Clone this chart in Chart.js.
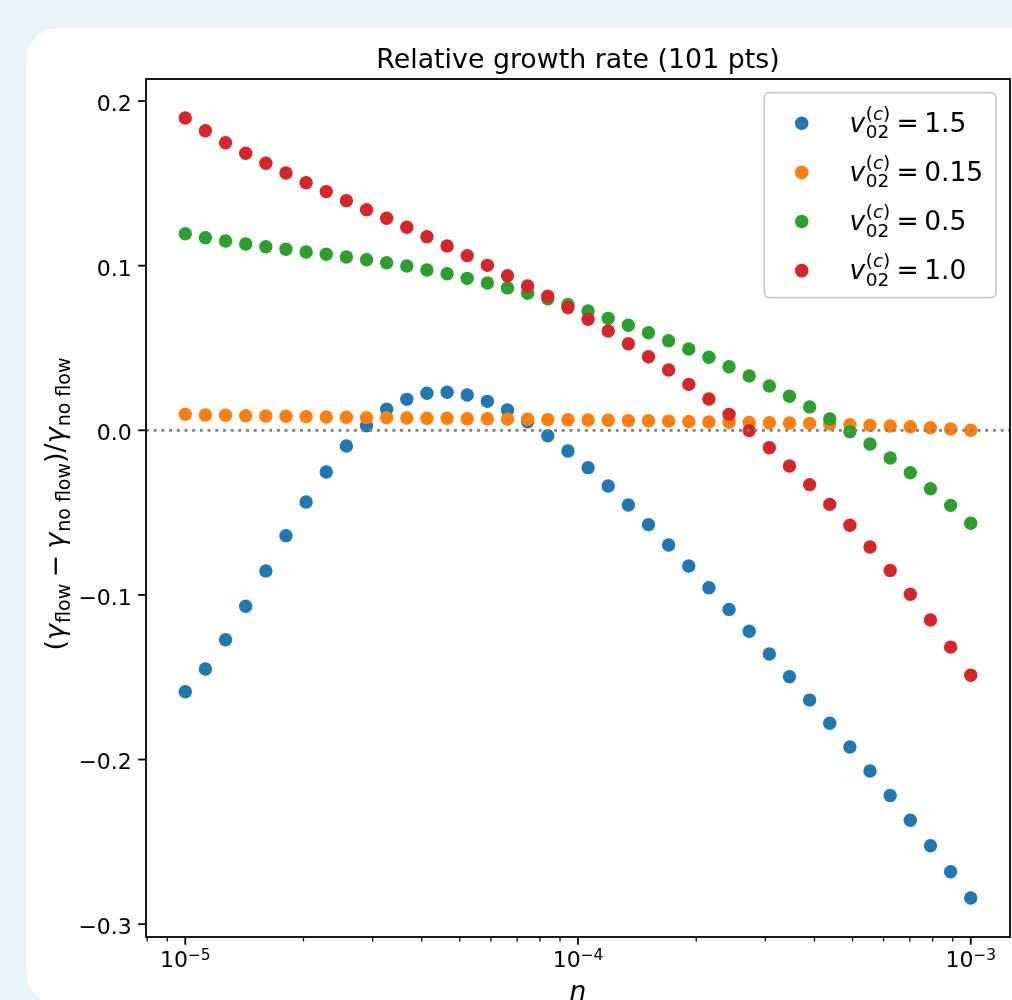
<!DOCTYPE html>
<html>
<head>
<meta charset="utf-8">
<script src="https://cdn.jsdelivr.net/npm/chart.js@4.4.1/dist/chart.umd.min.js"></script>
<style>
  html, body { margin: 0; padding: 0; width: 1012px; height: 1000px; overflow: hidden; background: rgb(232,244,250); }
  #card { position: absolute; left: 26px; top: 28px; width: 1012px; height: 976px; background: #ffffff; border-radius: 32px; }
  #c { position: absolute; left: 0; top: 0; }
</style>
</head>
<body>
<div id="card"></div>
<canvas id="c" width="1012" height="1000"></canvas>
<script>
// ---------------- data ----------------
const nValues = [
  1.0000e-5, 1.1253e-5, 1.2664e-5, 1.4251e-5, 1.6037e-5, 1.8047e-5, 2.0309e-5, 2.2855e-5, 2.5719e-5, 2.8943e-5,
  3.2570e-5, 3.6652e-5, 4.1246e-5, 4.6416e-5, 5.2233e-5, 5.8780e-5, 6.6147e-5, 7.4438e-5, 8.3768e-5, 9.4267e-5,
  1.0608e-4, 1.1938e-4, 1.3434e-4, 1.5118e-4, 1.7013e-4, 1.9145e-4, 2.1544e-4, 2.4245e-4, 2.7283e-4, 3.0703e-4,
  3.4551e-4, 3.8882e-4, 4.3755e-4, 4.9239e-4, 5.5410e-4, 6.2355e-4, 7.0170e-4, 7.8965e-4, 8.8862e-4, 1.0000e-3
];
const growthV15 = [
  -0.1588, -0.1450, -0.1272, -0.1069, -0.0855, -0.0640, -0.0436, -0.0253, -0.0095, 0.0028,
  0.0128, 0.0188, 0.0225, 0.0231, 0.0214, 0.0176, 0.0123, 0.0052, -0.0033, -0.0126,
  -0.0227, -0.0338, -0.0454, -0.0573, -0.0697, -0.0824, -0.0956, -0.1088, -0.1221, -0.1359,
  -0.1497, -0.1639, -0.1780, -0.1924, -0.2070, -0.2218, -0.2369, -0.2524, -0.2682, -0.2841
];
const growthV015 = [
  0.0097, 0.0093, 0.0091, 0.0089, 0.0087, 0.0085, 0.0083, 0.0081, 0.0079, 0.0077,
  0.0077, 0.0075, 0.0073, 0.0073, 0.0070, 0.0070, 0.0069, 0.0067, 0.0065, 0.0064,
  0.0063, 0.0061, 0.0059, 0.0058, 0.0056, 0.0053, 0.0051, 0.0049, 0.0047, 0.0046,
  0.0044, 0.0042, 0.0038, 0.0034, 0.0030, 0.0026, 0.0022, 0.0016, 0.0008, 0.0000
];
const growthV05 = [
  0.1194, 0.1170, 0.1150, 0.1132, 0.1115, 0.1100, 0.1083, 0.1069, 0.1053, 0.1036,
  0.1018, 0.0998, 0.0974, 0.0951, 0.0923, 0.0895, 0.0865, 0.0832, 0.0799, 0.0764,
  0.0725, 0.0680, 0.0638, 0.0593, 0.0544, 0.0494, 0.0444, 0.0386, 0.0330, 0.0269,
  0.0207, 0.0142, 0.0069, -0.0009, -0.0083, -0.0168, -0.0258, -0.0355, -0.0456, -0.0565
];
const growthV10 = [
  0.1897, 0.1820, 0.1747, 0.1683, 0.1622, 0.1563, 0.1504, 0.1450, 0.1395, 0.1340,
  0.1288, 0.1233, 0.1176, 0.1120, 0.1061, 0.1002, 0.0939, 0.0877, 0.0814, 0.0746,
  0.0674, 0.0603, 0.0526, 0.0447, 0.0366, 0.0279, 0.0190, 0.0097, -0.0002, -0.0106,
  -0.0217, -0.0330, -0.0450, -0.0577, -0.0709, -0.0851, -0.0996, -0.1152, -0.1317, -0.1488
];
const seriesValues = [growthV15, growthV015, growthV05, growthV10];
const seriesLabels = ['1.5', '0.15', '0.5', '1.0'];
const seriesColors = ['#1f77b4', '#ff7f0e', '#2ca02c', '#d62728'];

const yTickValues = [-0.3, -0.2, -0.1, 0.0, 0.1, 0.2];
const yTickLabels = ['\u22120.3', '\u22120.2', '\u22120.1', '0.0', '0.1', '0.2'];
const xMajorExponents = [-5, -4, -3];
const xTickExpLabels = ['\u22125', '\u22124', '\u22123'];
const xMinorMantissas = [2, 3, 4, 5, 6, 7, 8, 9];

const titleText = 'Relative growth rate (101 pts)';
const xAxisLabel = 'n';

const X_MIN = 7.9433e-6, X_MAX = 1.2589e-3;
const Y_MIN = -0.3078, Y_MAX = 0.2134;

// ---------------- helpers ----------------
const FAM = '"DejaVu Sans", sans-serif';
function fontStr(p) { return (p.i ? 'italic ' : '') + p.s + 'px ' + FAM; }
function richWidth(ctx, parts) {
  let w = 0;
  for (const p of parts) { ctx.font = fontStr(p); w += (p.pre || 0) + ctx.measureText(p.t).width + (p.gap || 0); }
  return w;
}
function drawRich(ctx, x, y, parts) {
  let cx = x;
  for (const p of parts) {
    ctx.font = fontStr(p);
    cx += (p.pre || 0);
    ctx.fillText(p.t, cx, y + (p.dy || 0));
    cx += ctx.measureText(p.t).width + (p.gap || 0);
  }
  return cx;
}

const decor = {
  id: 'decor',
  afterDatasetsDraw(chart) {
    const ctx = chart.ctx;
    const a = chart.chartArea;
    const xs = chart.scales.x, ys = chart.scales.y;
    ctx.save();

    // zero reference line (dotted)
    const y0 = ys.getPixelForValue(0);
    ctx.strokeStyle = '#808080';
    ctx.lineWidth = 2.8;
    ctx.setLineDash([2.9, 4.8]);
    ctx.beginPath(); ctx.moveTo(a.left, y0); ctx.lineTo(a.right, y0); ctx.stroke();
    ctx.setLineDash([]);

    // spines
    ctx.strokeStyle = '#000';
    ctx.lineWidth = 1.8;
    ctx.strokeRect(a.left, a.top, a.right - a.left, a.bottom - a.top);

    // y ticks + labels
    ctx.fillStyle = '#000';
    ctx.textAlign = 'right';
    ctx.textBaseline = 'alphabetic';
    ctx.font = '22px ' + FAM;
    yTickValues.forEach((v, i) => {
      const py = ys.getPixelForValue(v);
      ctx.beginPath(); ctx.moveTo(a.left, py); ctx.lineTo(a.left - 7.8, py); ctx.stroke();
      ctx.fillText(yTickLabels[i], a.left - 14.2, py + 9.9);
    });

    // x minor ticks
    ctx.lineWidth = 1.3;
    for (let e = -6; e <= -3; e++) {
      for (const m of xMinorMantissas) {
        const v = m * Math.pow(10, e);
        if (v < X_MIN || v > X_MAX) continue;
        const px = xs.getPixelForValue(v);
        ctx.beginPath(); ctx.moveTo(px, a.bottom); ctx.lineTo(px, a.bottom + 4.4); ctx.stroke();
      }
    }
    // x major ticks + labels
    ctx.lineWidth = 1.8;
    ctx.textAlign = 'left';
    xMajorExponents.forEach((e, i) => {
      const px = xs.getPixelForValue(Math.pow(10, e));
      ctx.beginPath(); ctx.moveTo(px, a.bottom); ctx.lineTo(px, a.bottom + 7.8); ctx.stroke();
      const parts = [{ t: '10', s: 22 }, { t: xTickExpLabels[i], s: 15.4, dy: -7.5 }];
      const w = richWidth(ctx, parts);
      drawRich(ctx, px - w / 2, a.bottom + 30, parts);
    });

    // title
    ctx.textAlign = 'center';
    ctx.font = '26.8px ' + FAM;
    ctx.fillText(titleText, (a.left + a.right) / 2, 67.5);

    // x label
    ctx.font = 'italic 26.5px ' + FAM;
    ctx.fillText(xAxisLabel, (a.left + a.right) / 2, 999.5);

    // y label (rotated)
    ctx.textAlign = 'left';
    const B = 27, S = 19, D = 5.6;
    const yl = [
      { t: '(', s: B }, { t: '\u03b3', s: B, i: 1, gap: 1 }, { t: 'flow', s: S, dy: D },
      { t: '\u2212', s: B, pre: 6.2, gap: 6.2 },
      { t: '\u03b3', s: B, i: 1, gap: 1 }, { t: 'no flow', s: S, dy: D },
      { t: ')', s: B }, { t: '/', s: B }, { t: '\u03b3', s: B, i: 1, gap: 1 }, { t: 'no flow', s: S, dy: D }
    ];
    const ylw = richWidth(ctx, yl);
    ctx.save();
    ctx.translate(64, (a.top + a.bottom) / 2 - 4);
    ctx.rotate(-Math.PI / 2);
    drawRich(ctx, -ylw / 2, 0, yl);
    ctx.restore();

    // legend
    const lx = 764.3, ly = 92.7, lw = 231.7, lh = 205, r = 5;
    ctx.beginPath();
    ctx.moveTo(lx + r, ly);
    ctx.arcTo(lx + lw, ly, lx + lw, ly + lh, r);
    ctx.arcTo(lx + lw, ly + lh, lx, ly + lh, r);
    ctx.arcTo(lx, ly + lh, lx, ly, r);
    ctx.arcTo(lx, ly, lx + lw, ly, r);
    ctx.closePath();
    ctx.fillStyle = 'rgba(255,255,255,0.8)';
    ctx.fill();
    ctx.strokeStyle = '#cccccc';
    ctx.lineWidth = 1.8;
    ctx.stroke();

    seriesLabels.forEach((lab, k) => {
      const ry = 123.3 + k * 49.1;
      ctx.fillStyle = seriesColors[k];
      ctx.beginPath(); ctx.arc(801.7, ry, 6.8, 0, Math.PI * 2); ctx.fill();
      ctx.fillStyle = '#000';
      const base = ry + 8.4;
      let x0 = 849.5;
      ctx.font = 'italic 26.5px ' + FAM;
      ctx.fillText('v', x0, base);
      const x1 = x0 + ctx.measureText('v').width + 0.5;
      const sup = [{ t: '(', s: 18.5 }, { t: 'c', s: 18.5, i: 1 }, { t: ')', s: 18.5 }];
      const supEnd = drawRich(ctx, x1, base - 11.7, sup);
      const subEnd = drawRich(ctx, x1, base + 6.6, [{ t: '02', s: 18.5 }]);
      let x2 = Math.max(supEnd, subEnd) + 6.2;
      ctx.font = '26.5px ' + FAM;
      ctx.fillText('=', x2, base);
      x2 += ctx.measureText('=').width + 5.5;
      ctx.fillText(lab, x2, base);
    });

    ctx.restore();
  }
};

const ctx = document.getElementById('c').getContext('2d');
new Chart(ctx, {
  type: 'scatter',
  data: {
    datasets: seriesValues.map((vals, k) => ({
      label: seriesLabels[k],
      data: nValues.map((n, i) => ({ x: n, y: vals[i] })),
      backgroundColor: seriesColors[k],
      borderColor: seriesColors[k],
      pointRadius: 6.7,
      pointBorderWidth: 0,
      pointHoverRadius: 6.7,
      order: 4 - k
    }))
  },
  options: {
    responsive: false,
    animation: false,
    devicePixelRatio: 1,
    events: [],
    layout: { autoPadding: false, padding: { left: 146, top: 79, right: 2, bottom: 63 } },
    plugins: { legend: { display: false }, tooltip: { enabled: false }, title: { display: false } },
    scales: {
      x: { type: 'logarithmic', min: X_MIN, max: X_MAX, display: false },
      y: { type: 'linear', min: Y_MIN, max: Y_MAX, display: false }
    }
  },
  plugins: [decor]
});
</script>
</body>
</html>
